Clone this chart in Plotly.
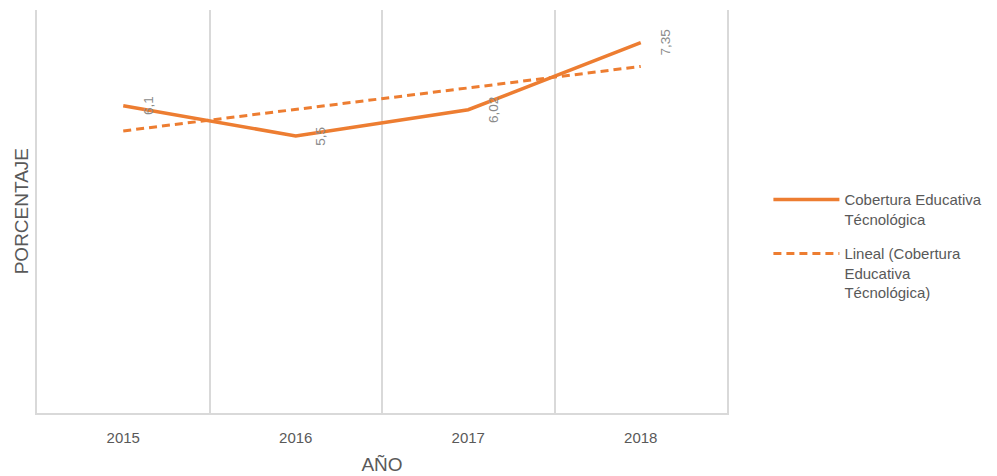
import plotly.graph_objects as go

years = ["2015", "2016", "2017", "2018"]
values = [6.1, 5.5, 6.02, 7.35]
value_labels = ["6,1", "5,5", "6,02", "7,35"]
trend_values = [5.60, 6.03, 6.46, 6.88]

orange = "#ED7D31"
grid = "#d9d9d9"
textgray = "#595959"

fig = go.Figure()
fig.add_trace(go.Scatter(
    x=years, y=values, mode="lines",
    line=dict(color=orange, width=3.5),
    name="Cobertura Educativa<br>Técnológica", legendgroup="serie",
))
fig.add_trace(go.Scatter(
    x=years, y=trend_values, mode="lines",
    line=dict(color=orange, width=3, dash="8px,5px"),
    name="Lineal (Cobertura<br>Educativa<br>Técnológica)", legendgroup="tendencia",
))

for i, (v, lab) in enumerate(zip(values, value_labels)):
    fig.add_annotation(
        x=i, y=v, xref="x", yref="y", text=lab, showarrow=False, textangle=-90,
        xshift=25, font=dict(size=13.5, color="#8a8a8a", family="Liberation Sans, Arial"),
    )

fig.add_annotation(
    xref="paper", yref="paper", x=-0.022, y=0.5, text="PORCENTAJE",
    textangle=-90, showarrow=False, xanchor="center", yanchor="middle",
    font=dict(size=19, color=textgray, family="Liberation Sans, Arial"),
)

fig.update_layout(
    width=989, height=468,
    margin=dict(l=29, r=270, t=2, b=63),
    plot_bgcolor="white", paper_bgcolor="white",
    font=dict(family="Liberation Sans, Arial", color=textgray),
    xaxis=dict(
        type="category", tickson="boundaries", showgrid=True, gridcolor=grid, gridwidth=1.5,
        showline=True, linecolor=grid, linewidth=1.5, ticks="", range=[-0.5, 3.5],
        tickfont=dict(size=15, color=textgray), ticklabelstandoff=10,
        title=dict(text="AÑO", standoff=13,
                   font=dict(size=19, color=textgray, family="Liberation Sans, Arial")),
        zeroline=False,
    ),
    yaxis=dict(
        range=[0, 8], showgrid=False, showticklabels=False, zeroline=False,
        showline=True, mirror=True, linecolor=grid, linewidth=1.5, ticks="",
    ),
    legend=dict(
        x=1.06, y=0.57, xanchor="left", yanchor="top", valign="top",
        itemwidth=66, tracegroupgap=12,
        font=dict(size=15, color=textgray),
        bgcolor="rgba(0,0,0,0)",
    ),
)

fig.write_html("out.html")
